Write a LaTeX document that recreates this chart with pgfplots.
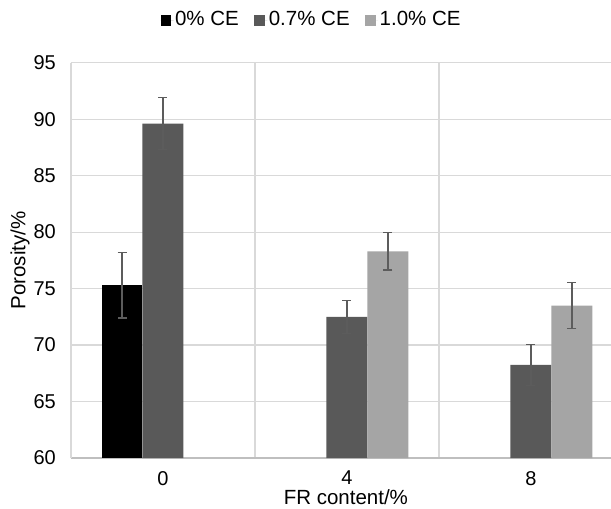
\documentclass[border=0pt]{standalone}
\usepackage{fontspec}
\setmainfont{Liberation Sans}
\usepackage{pgfplots}
\pgfplotsset{compat=1.18}
\definecolor{cA}{HTML}{000000}
\definecolor{cB}{HTML}{595959}
\definecolor{cC}{HTML}{A5A5A5}
\definecolor{gridc}{HTML}{D9D9D9}
\definecolor{axc}{HTML}{BFBFBF}
\definecolor{errc}{HTML}{5C5C5C}
\begin{document}
\fontsize{20.5bp}{24bp}\selectfont
\begin{tikzpicture}
\useasboundingbox (-71bp,-51bp) rectangle (540bp,458bp);
\begin{axis}[
  at={(0,0)}, anchor=south west,
  scale only axis, width=540bp, height=395.3bp,
  ybar=0pt, bar width=0.2228,
  xmin=-0.5, xmax=2.435, ymin=60, ymax=95,
  xtick={0,1,2}, xticklabels={0,4,8},
  minor xtick={0.5,1.5}, xminorgrids,
  ytick={60,65,...,95}, ymajorgrids,
  grid style={draw=gridc, line width=1.2bp},
  minor grid style={draw=gridc, line width=1.2bp},
  axis x line=bottom, axis y line=left,
  x axis line style={-, draw=axc, line width=1.2bp},
  y axis line style={-, draw=gridc, line width=1.2bp},
  tick style={draw=none},
  /pgf/number format/assume math mode=true,
  ticklabel style={font=\fontsize{20bp}{24bp}\selectfont},
  yticklabel style={xshift=-6bp},
  xticklabel style={yshift=-4bp},
  label style={font=\fontsize{20.5bp}{24bp}\selectfont},
  xlabel={FR content/\%},
  ylabel={Porosity/\%},
  xlabel style={at={(axis description cs:0.509,-0.0987)}, anchor=center},
  ylabel style={at={(axis description cs:-0.0944,0.5)}, anchor=center},
  legend style={at={(axis description cs:0.445,1.108)}, anchor=center,
    draw=none, fill=none, legend columns=3,
    font=\fontsize{20.5bp}{24bp}\selectfont,
    /tikz/every even column/.append style={column sep=14bp},
    nodes={inner sep=1.5bp}},
  legend image code/.code={\fill[#1] (0bp,-5.5bp) rectangle (10.5bp,5.5bp);\path (0bp,0bp) -- (13bp,0bp);},
  error bars/y dir=both, error bars/y explicit,
  error bars/error bar style={draw=errc, line width=1.3bp},
  error bars/error mark options={rotate=90, mark size=4.5bp, draw=errc, line width=1.3bp},
]
\addplot[fill=cA, draw=none] table[x=x, y=y, y error=e] {
x y e
0 75.3 2.9
};
\addplot[fill=cB, draw=none] table[x=x, y=y, y error=e] {
x y e
0 89.6 2.3
1 72.5 1.45
2 68.25 1.8
};
\addplot[fill=cC, draw=none] table[x=x, y=y, y error=e] {
x y e
1 78.3 1.65
2 73.5 2.05
};
\legend{0\% CE, 0.7\% CE, 1.0\% CE}
\end{axis}
\end{tikzpicture}
\end{document}
